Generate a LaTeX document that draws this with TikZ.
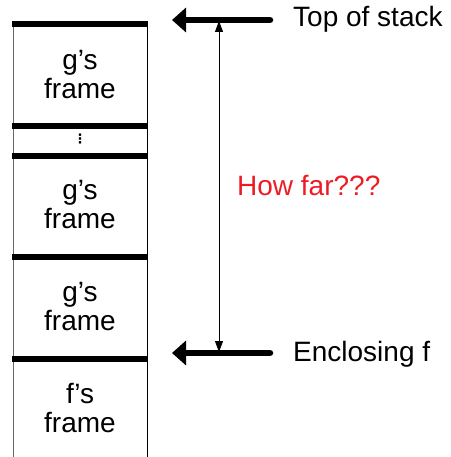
\documentclass[tikz,border=0pt]{standalone}
\usepackage{fontspec}
\setmainfont{Liberation Sans}
\newfontfamily\dejavu{DejaVu Sans}
\usetikzlibrary{arrows.meta}
\definecolor{howred}{RGB}{237,28,36}
\begin{document}
\begin{tikzpicture}[x=1pt,y=-1pt,
  bar/.style={line width=6pt},
  side/.style={line width=1pt},
  lbl/.style={font=\fontsize{28}{29}\selectfont, inner sep=0pt},
  framelbl/.style={lbl, align=center},
  bigarrow/.style={line width=6.5pt, line cap=round, -{Triangle[length=14pt,width=24pt]}},
  gaparrow/.style={line width=0.9pt, {Triangle[length=11pt,width=8pt]}-{Triangle[length=11pt,width=8pt]}}]
\useasboundingbox (0,0) rectangle (450,457);
% stack sides
\draw[side, black!60] (13,24) -- (13,457);
\draw[side] (147,24) -- (147,457);
% frame boundaries
\foreach \y in {24,126,156,257,359}
  \draw[bar] (12,\y) -- (148,\y);
% frame labels
\node[framelbl] (g1) at (80,75) {g’s\\frame};
\node[font={\dejavu\fontsize{13}{13}\selectfont\bfseries}, inner sep=0pt] (dots) at (80,139) {⋮};
\node[framelbl] (g2) at (80,205) {g’s\\frame};
\node[framelbl] (g3) at (80,307) {g’s\\frame};
\node[framelbl] (f1) at (80,408) {f’s\\frame};
% pointers
\coordinate (ts) at (270,20);
\coordinate (tt) at (172,20);
\draw[bigarrow] (ts) -- (tt);
\node[lbl, anchor=base west] (top) at (293,27) {Top of stack};
\coordinate (es) at (270,353);
\coordinate (et) at (172,353);
\draw[bigarrow] (es) -- (et);
\node[lbl, anchor=base west] (encl) at (293,361) {Enclosing f};
% distance
\coordinate (gt) at (219,21);
\coordinate (gb) at (219,352);
\draw[gaparrow] (gt) -- (gb);
\node[lbl, anchor=base west, text=howred] (far) at (237,195) {How far???};
\end{tikzpicture}
\end{document}
